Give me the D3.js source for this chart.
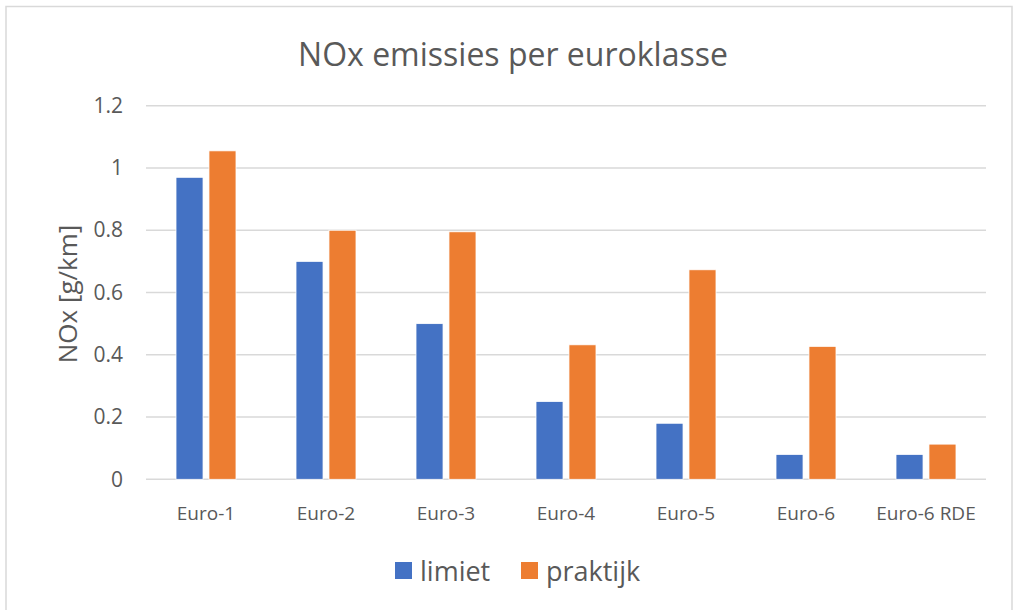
<!DOCTYPE html>
<html><head><meta charset="utf-8">
<script src="https://cdn.jsdelivr.net/npm/d3@7"></script>
<style>body{margin:0;background:#fff;} text{font-family:"Open Sans","Noto Sans",sans-serif;}</style>
</head><body>
<svg id="c" width="1016" height="610"></svg>
<script>
const categories = ["Euro-1","Euro-2","Euro-3","Euro-4","Euro-5","Euro-6","Euro-6 RDE"];
const limiet = [0.97,0.70,0.50,0.25,0.18,0.08,0.08];
const praktijk = [1.055,0.80,0.795,0.432,0.673,0.427,0.113];
const yTicks = [0,0.2,0.4,0.6,0.8,1,1.2];
const seriesNames = ["limiet","praktijk"];
const colors = ["#4472C4","#ED7D31"];

(function(){
const svg = d3.select("#c");
svg.append("rect").attr("x",6).attr("y",6.5).attr("width",1006).attr("height",620)
  .attr("fill","#fff").attr("stroke","#d9d9d9").attr("stroke-width",1.5);

const pL=146,pR=986,pT=105.7,pB=479.3;
const x = d3.scaleBand().domain(categories).range([pL,pR]);
const y = d3.scaleLinear().domain([0,1.2]).range([pB,pT]);

svg.append("g").selectAll("line").data(yTicks).join("line")
  .attr("x1",pL).attr("x2",pR).attr("y1",d=>y(d)).attr("y2",d=>y(d))
  .attr("stroke","#d9d9d9").attr("stroke-width",1.5);

const yAxis = d3.axisLeft(y).tickValues(yTicks).tickSize(0).tickPadding(23).tickFormat(d=>String(d));
const gy = svg.append("g").attr("transform",`translate(${pL},0)`).call(yAxis);
gy.select(".domain").remove();
gy.selectAll("text").attr("font-size",21).attr("fill","#595959").attr("font-family","'Open Sans',sans-serif");

const xAxis = d3.axisBottom(x).tickSize(0).tickPadding(27);
const gx = svg.append("g").attr("transform",`translate(0,${pB})`).call(xAxis);
gx.select(".domain").remove();
gx.selectAll("text").attr("font-size",19).attr("fill","#595959").attr("font-family","'Open Sans',sans-serif");

const inner = d3.scaleBand().domain([0,1]).range([-30,30]).paddingInner(0.18).paddingOuter(0);
const data = categories.map((c,i)=>({c,v:[limiet[i],praktijk[i]]}));
const g = svg.append("g").selectAll("g").data(data).join("g")
  .attr("transform",d=>`translate(${x(d.c)+x.bandwidth()/2},0)`);
g.selectAll("rect").data(d=>d.v.map((v,k)=>({v,k}))).join("rect")
  .attr("x",d=>inner(d.k)).attr("width",inner.bandwidth())
  .attr("y",d=>y(d.v)).attr("height",d=>y(0)-y(d.v))
  .attr("fill",d=>colors[d.k]).attr("stroke","#fff").attr("stroke-width",0.8);

svg.append("text").attr("x",513).attr("y",66).attr("text-anchor","middle")
  .attr("font-size",32).attr("fill","#595959").text("NOx emissies per euroklasse");

svg.append("text").attr("transform","translate(77,294) rotate(-90)").attr("text-anchor","middle")
  .attr("font-size",26).attr("fill","#595959").text("NOx [g/km]");

const legX=[395,521];
const lg = svg.append("g").selectAll("g").data(seriesNames).join("g")
  .attr("transform",(d,i)=>`translate(${legX[i]},0)`);
lg.append("rect").attr("x",0).attr("y",562).attr("width",17).attr("height",17)
  .attr("fill",(d,i)=>colors[i]);
lg.append("text").attr("x",25).attr("y",581).attr("font-size",27).attr("fill","#595959").text(d=>d);
})();
</script>
</body></html>
